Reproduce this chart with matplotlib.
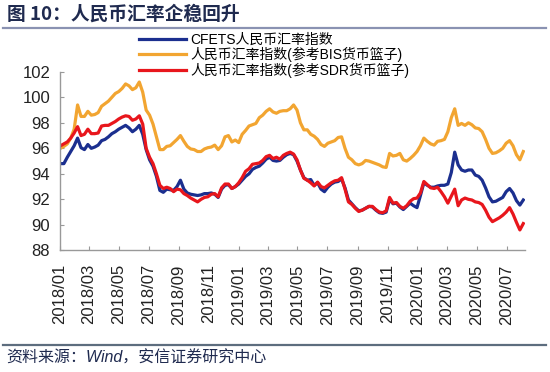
import pandas as pd
import numpy as np
import matplotlib
matplotlib.use("Agg")
import matplotlib.pyplot as plt
import matplotlib.dates as mdates
from matplotlib.lines import Line2D

plt.rcParams['font.family'] = ['Liberation Sans', 'Noto Sans CJK SC']

# weekly observations, 2018-01 .. 2020-08
dates = pd.date_range('2018-01-02', periods=136, freq='7D')

cfets = [
    94.8, 94.8, 95.3, 95.75, 96.2, 96.8, 96.05, 95.9, 96.3, 96.0,
    96.1, 96.25, 96.6, 96.7, 96.9, 97.15, 97.3, 97.5, 97.65, 97.8,
    97.6, 97.3, 97.5, 97.8, 97.1, 95.9, 95.1, 94.6, 93.8, 92.7,
    92.55, 92.8, 92.75, 92.7, 93.0, 93.5, 92.8, 92.5, 92.4, 92.35,
    92.3, 92.35, 92.45, 92.45, 92.5, 92.4, 92.15, 92.8, 93.1, 93.15,
    92.85, 93.0, 93.2, 93.5, 93.8, 94.0, 94.35, 94.5, 94.6, 94.85,
    95.15, 95.3, 95.05, 95.0, 95.05, 95.3, 95.5, 95.6, 95.5, 95.0,
    94.3, 93.7, 93.5, 93.55, 93.1, 93.3, 92.8, 92.6, 92.95, 93.2,
    93.35, 93.4, 93.6, 92.9, 91.95, 91.65, 91.35, 91.1, 91.15, 91.3,
    91.45, 91.4, 91.15, 90.95, 90.9, 91.0, 92.0, 91.65, 91.7, 91.4,
    91.2, 91.45, 91.7, 91.5, 91.35, 92.3, 93.3, 93.1, 92.95, 92.95,
    93.05, 93.1, 93.1, 93.2, 94.1, 95.7, 94.7, 94.3, 94.2, 94.3,
    94.3, 93.9, 93.8, 93.5, 92.9, 92.2, 91.8, 91.85, 92.0, 92.15,
    92.6, 92.85, 92.5, 91.9, 91.55, 91.95,
]

bis = [
    96.0, 96.15, 96.35, 96.8, 97.5, 99.4, 98.5, 98.5, 98.9, 98.6,
    98.65, 98.8, 99.3, 99.5, 99.7, 100.0, 100.3, 100.45, 100.7, 101.05,
    100.9, 100.6, 100.75, 101.2, 100.4, 99.0, 98.6, 97.9, 96.9, 95.9,
    95.9, 96.15, 96.2, 96.45, 96.7, 97.0, 96.55, 96.15, 95.95, 95.9,
    95.75, 95.75, 95.95, 96.05, 96.1, 96.25, 95.9, 96.2, 96.9, 97.0,
    96.5, 96.65, 96.45, 97.1, 97.4, 97.75, 97.85, 97.95, 98.4, 98.6,
    98.9, 99.1, 98.85, 98.75, 98.9, 98.95, 98.95, 99.1, 99.4, 99.0,
    98.0, 97.45, 97.45, 97.1, 96.95, 96.7, 96.3, 96.15, 96.4, 96.5,
    96.6, 96.85, 96.9, 96.0, 95.3, 95.1, 94.8, 94.7, 94.8, 95.05,
    95.0, 94.9, 94.8, 94.7, 94.55, 94.5, 95.6, 95.4, 95.45, 95.6,
    95.1, 95.0, 95.2, 95.45, 95.75, 96.2, 96.8, 96.55, 96.35, 96.25,
    96.55, 96.6, 96.7, 97.3, 98.4, 99.1, 97.8, 97.95, 97.8, 98.0,
    97.85, 97.6, 97.55, 97.3, 96.7, 96.0, 95.6, 95.65, 95.8, 96.0,
    96.4, 96.6, 96.2, 95.5, 95.1, 95.75,
]

sdr = [
    96.2, 96.35, 96.5, 96.8, 97.2, 97.7, 97.0, 97.1, 97.5, 97.15,
    97.15, 97.2, 97.75, 97.8, 97.8, 97.95, 98.1, 98.3, 98.45, 98.55,
    98.5, 98.2, 98.3, 98.55, 97.9, 96.0, 95.3, 94.8, 94.0, 93.1,
    92.85, 92.95, 92.85, 92.6, 92.8, 92.75, 92.45, 92.3, 92.1, 91.95,
    91.8, 92.0, 92.15, 92.2, 92.4, 92.45, 92.2, 92.9, 93.2, 93.2,
    92.85, 93.0, 93.3, 93.7, 94.2, 94.4, 94.75, 94.8, 94.85, 95.05,
    95.35, 95.45, 95.2, 95.3, 95.15, 95.45, 95.6, 95.7, 95.55, 95.1,
    94.3, 93.65, 93.5, 93.3, 93.05, 93.35, 93.0, 92.9, 93.1, 93.3,
    93.45, 93.5, 93.7, 92.8, 91.8, 91.6, 91.3, 91.05, 91.15, 91.3,
    91.45, 91.45, 91.2, 91.0, 90.95, 91.1, 92.15, 91.7, 91.75, 91.45,
    91.3, 91.5, 91.85, 92.05, 92.1, 92.5, 93.4, 93.15, 92.9, 92.85,
    92.95, 92.6, 92.2, 91.7, 92.25, 92.8, 91.5, 91.95, 92.1, 92.0,
    91.95, 91.8, 91.75, 91.6, 91.15, 90.6, 90.25, 90.4, 90.55, 90.75,
    91.0, 91.35, 90.85, 90.2, 89.6, 90.1,
]

labels = ['CFETS人民币汇率指数', '人民币汇率指数(参考BIS货币篮子)', '人民币汇率指数(参考SDR货币篮子)']
colors = ['#1b2f8f', '#f2a531', '#e8161c']

fig = plt.figure(figsize=(5.5, 3.72), dpi=100)
ax = fig.add_axes([0.109, 0.327, 0.846, 0.480])

for vals, lab, col in zip([cfets, bis, sdr], labels, colors):
    ax.plot(dates, vals, color=col, lw=2.3, label=lab, solid_joinstyle='round')

ax.set_ylim(88, 102)
ax.set_yticks(range(88, 103, 2))
ax.set_xlim(pd.Timestamp('2018-01-01'), pd.Timestamp('2020-08-08'))
ax.xaxis.set_major_locator(mdates.MonthLocator(bymonth=[1, 3, 5, 7, 9, 11]))
ax.xaxis.set_major_formatter(mdates.DateFormatter('%Y/%m'))
ax.tick_params(axis='x', rotation=90, labelsize=12, direction='in', length=3,
               color='#999999', pad=10, labelcolor='#222222')
ax.tick_params(axis='y', labelsize=12, direction='in', length=3,
               color='#999999', pad=7, labelcolor='#222222')
for s in ['top', 'right']:
    ax.spines[s].set_visible(False)
for s in ['left', 'bottom']:
    ax.spines[s].set_color('#999999')
    ax.spines[s].set_linewidth(1)

fig.legend(loc='upper left', bbox_to_anchor=(0.252, 0.912), frameon=False,
           fontsize=10, handlelength=3.4, handletextpad=0.3, labelspacing=0.02,
           borderpad=0, borderaxespad=0)

# header / footer
fig.text(0.012, 0.963, '图 10：人民币汇率企稳回升', fontsize=13.5, fontweight='bold',
         color='#1f2a4f', va='center', ha='left', family=['Noto Sans CJK SC'])
fig.add_artist(Line2D([0.006, 0.992], [0.925, 0.925], color='#8a92b2', lw=1.6))
fig.add_artist(Line2D([0.006, 0.992], [0.073, 0.073], color='#5d6d7e', lw=1.6))
fig.text(0.012, 0.038, '资料来源：Wind，安信证券研究中心', fontsize=11.5, style='italic',
         color='#1f2a4f', va='center', ha='left')

fig.savefig('out.png', dpi=100)
